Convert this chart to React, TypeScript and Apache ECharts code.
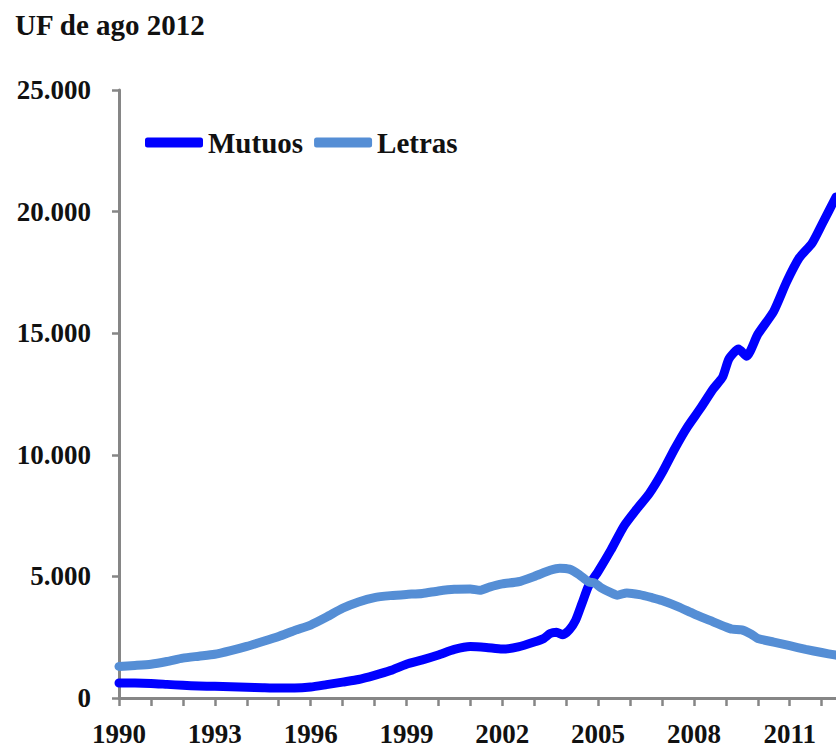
import React, { useEffect, useRef } from "react";
import * as echarts from "echarts";

const titleText = "UF de ago 2012";
const seriesNames = ["Mutuos", "Letras"];
const yTicks = [0, 5000, 10000, 15000, 20000, 25000];

const mutuosYears = [
  1990.0, 1990.5, 1991.0, 1991.5, 1992.0, 1992.5, 1993.0, 1993.5, 1994.0, 1994.5,
  1995.0, 1995.5, 1996.0, 1996.5, 1997.0, 1997.5, 1998.0, 1998.5, 1999.0, 1999.5,
  2000.0, 2000.5, 2001.0, 2001.5, 2002.0, 2002.5, 2003.0, 2003.3, 2003.5, 2003.7,
  2003.9, 2004.1, 2004.3, 2004.5, 2004.7, 2005.0, 2005.4, 2005.8, 2006.2, 2006.6,
  2007.0, 2007.4, 2007.8, 2008.2, 2008.6, 2008.9, 2009.1, 2009.4, 2009.65, 2010.0,
  2010.5, 2010.9, 2011.3, 2011.7, 2012.0, 2012.45,
];
const mutuosValues = [
  615, 615, 600, 560, 520, 495, 480, 465, 445, 425,
  410, 410, 450, 550, 655, 760, 930, 1130, 1390, 1570,
  1770, 2000, 2120, 2080, 2010, 2100, 2300, 2450, 2650, 2700,
  2600, 2800, 3200, 3900, 4600, 5200, 6080, 7050, 7750, 8400,
  9250, 10250, 11150, 11900, 12700, 13200, 13950, 14350, 14050, 14950,
  15900, 17100, 18100, 18700, 19450, 20600,
];

const letrasYears = [
  1990.0, 1990.5, 1991.0, 1991.5, 1992.0, 1992.5, 1993.0, 1993.5, 1994.0, 1994.5,
  1995.0, 1995.5, 1996.0, 1996.5, 1997.0, 1997.5, 1998.0, 1998.5, 1999.0, 1999.5,
  2000.0, 2000.5, 2001.0, 2001.3, 2001.6, 2002.0, 2002.5, 2003.0, 2003.5, 2003.8,
  2004.1, 2004.4, 2004.7, 2004.9, 2005.1, 2005.4, 2005.6, 2005.9, 2006.3, 2006.7,
  2007.0, 2007.5, 2008.0, 2008.5, 2009.0, 2009.2, 2009.5, 2009.8, 2010.0, 2010.5,
  2011.0, 2011.5, 2012.0, 2012.45,
];
const letrasValues = [
  1300, 1340, 1390, 1500, 1640, 1720, 1800, 1950, 2120, 2320,
  2530, 2780, 3000, 3330, 3690, 3950, 4130, 4210, 4260, 4300,
  4400, 4470, 4480, 4430, 4560, 4690, 4780, 5000, 5250, 5340,
  5300, 5080, 4780, 4720, 4530, 4330, 4230, 4320, 4250, 4120,
  4010, 3760, 3460, 3190, 2920, 2830, 2800, 2620, 2450, 2300,
  2150, 2000, 1870, 1760,
];

const FONT = "'Liberation Serif', 'Times New Roman', serif";
const AXIS_GRAY = "#868686";

function pairs(xs: number[], ys: number[]) {
  return xs.map((x, i) => [x, ys[i]]);
}

export default function App() {
  const ref = useRef<HTMLDivElement>(null);

  useEffect(() => {
    if (!ref.current) return;
    const chart = echarts.init(ref.current, undefined, { renderer: "svg" });
    chart.setOption({
      animation: false,
      backgroundColor: "#ffffff",
      title: {
        text: titleText,
        left: 15,
        top: 10,
        padding: 0,
        textStyle: { fontFamily: FONT, fontWeight: "bold", fontSize: 29, color: "#111" },
      },
      legend: {
        left: 145,
        top: 128,
        padding: 0,
        itemGap: 11,
        itemWidth: 58,
        itemHeight: 10,
        icon: "roundRect",
        data: seriesNames,
        textStyle: { fontFamily: FONT, fontWeight: "bold", fontSize: 29, color: "#111" },
      },
      grid: { left: 119, right: 0, top: 90, bottom: 47, containLabel: false },
      xAxis: {
        type: "value",
        min: 1990,
        max: 2012.45,
        interval: 1,
        splitLine: { show: false },
        axisLine: { show: true, lineStyle: { color: AXIS_GRAY, width: 3 } },
        axisTick: { show: true, length: 8, lineStyle: { color: AXIS_GRAY, width: 2.5 } },
        axisLabel: {
          margin: 22,
          showMaxLabel: false,
          fontFamily: FONT,
          fontWeight: "bold",
          fontSize: 27,
          color: "#111",
          formatter: (v: number) =>
            Number.isInteger(v) && (v - 1990) % 3 === 0 ? String(v) : "",
        },
      },
      yAxis: {
        type: "value",
        min: yTicks[0],
        max: yTicks[yTicks.length - 1],
        interval: 5000,
        splitLine: { show: false },
        axisLine: { show: true, lineStyle: { color: AXIS_GRAY, width: 3 } },
        axisTick: { show: true, length: 7, lineStyle: { color: AXIS_GRAY, width: 2.5 } },
        axisLabel: {
          margin: 28,
          fontFamily: FONT,
          fontWeight: "bold",
          fontSize: 27,
          color: "#111",
          formatter: (v: number) => (v === 0 ? "0" : `${v / 1000}.000`),
        },
      },
      series: [
        {
          name: seriesNames[0],
          type: "line",
          data: pairs(mutuosYears, mutuosValues),
          showSymbol: false,
          smooth: 0.2,
          color: "#0000FF",
          lineStyle: { width: 9, color: "#0000FF", cap: "round", join: "round" },
        },
        {
          name: seriesNames[1],
          type: "line",
          data: pairs(letrasYears, letrasValues),
          showSymbol: false,
          smooth: 0.2,
          color: "#558ED5",
          lineStyle: { width: 9, color: "#558ED5", cap: "round", join: "round" },
        },
      ],
    });
    return () => chart.dispose();
  }, []);

  return (
    <div
      ref={ref}
      style={{ position: "fixed", left: 0, top: 0, width: 836, height: 747, background: "#fff" }}
    />
  );
}
